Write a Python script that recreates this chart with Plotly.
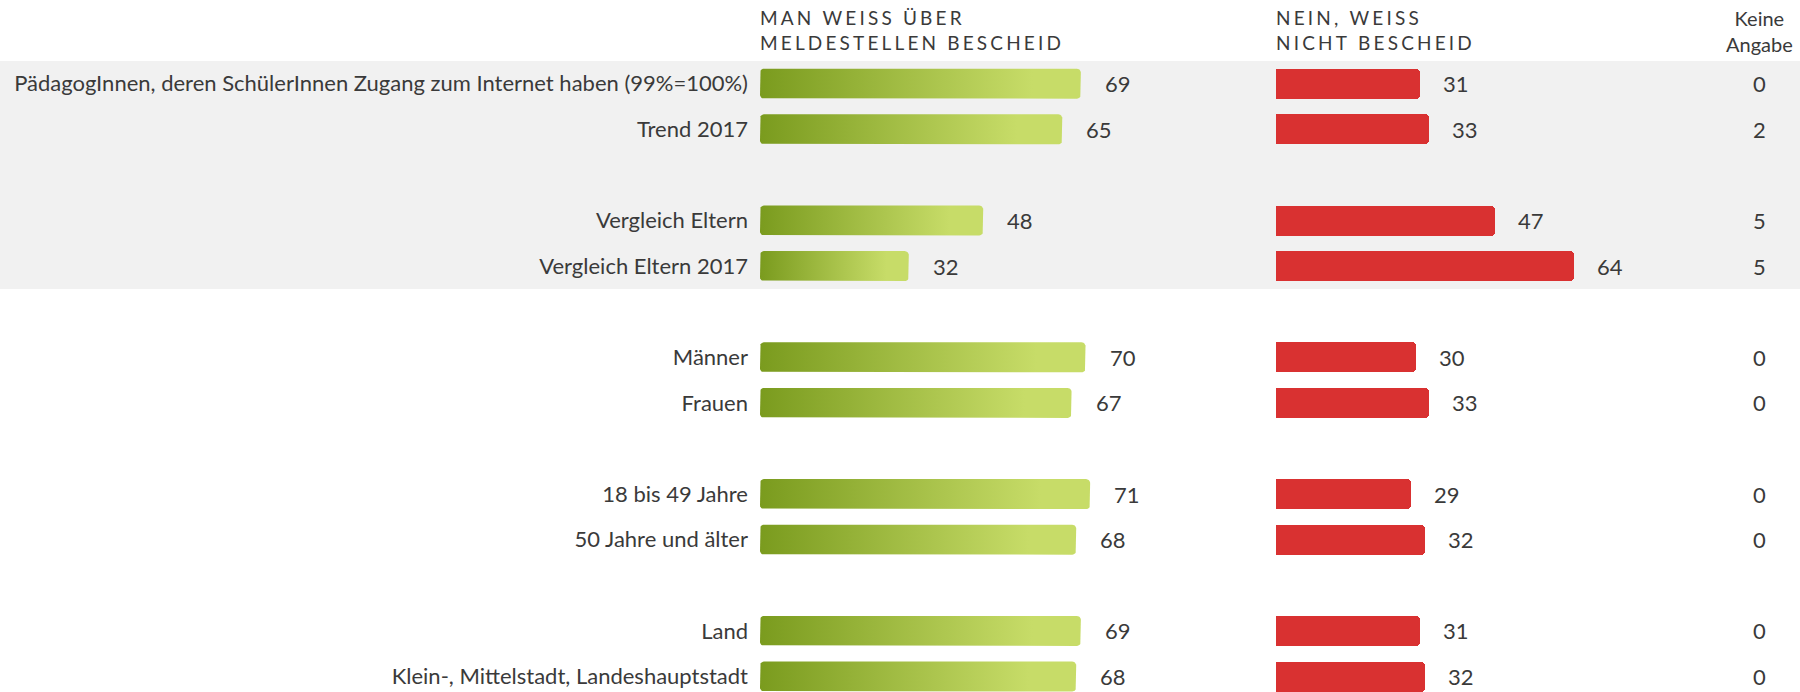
import numpy as np
import plotly.graph_objects as go

# ---- data -------------------------------------------------------------
categories = [
    "PädagogInnen, deren SchülerInnen Zugang zum Internet haben (99%=100%)",
    "Trend 2017",
    "Vergleich Eltern",
    "Vergleich Eltern 2017",
    "Männer",
    "Frauen",
    "18 bis 49 Jahre",
    "50 Jahre und älter",
    "Land",
    "Klein-, Mittelstadt, Landeshauptstadt",
]
group_ids = [0, 0, 1, 1, 2, 2, 3, 3, 4, 4]
weiss_bescheid = [69, 65, 48, 32, 70, 67, 71, 68, 69, 68]
weiss_nicht = [31, 33, 47, 64, 30, 33, 29, 32, 31, 32]
keine_angabe = [0, 2, 5, 5, 0, 0, 0, 0, 0, 0]

header_ja = "MAN WEISS ÜBER<br>MELDESTELLEN BESCHEID"
header_nein = "NEIN, WEISS<br>NICHT BESCHEID"
header_keine = "Keine<br>Angabe"

# ---- layout constants --------------------------------------------------
W, H = 1800, 692
ROW_PX = 45.6          # pixel pitch of one row slot
FIRST_ROW_PX = 83.7    # centre of the first row from the top
BAR_PX = 30            # bar thickness
RADIUS_PX = 4
GREEN_X0, RED_X0, SCALE_W = 760, 1276, 465   # axis starts / width for 0..100
KEINE_X = 1759

FONT = "Lato, 'Open Sans', sans-serif"
TEXT = "#3a3a3a"
GREEN_DARK, GREEN_LIGHT = "#7a9b1e", "#c7dc68"
RED = "#d93131"
BAND = "#f1f1f1"

# one empty slot between groups
slots = [i + g for i, g in enumerate(group_ids)]

y_top = -FIRST_ROW_PX / ROW_PX
y_bottom = (H - FIRST_ROW_PX) / ROW_PX
bar_h = BAR_PX / ROW_PX
rx = RADIUS_PX * 100 / SCALE_W
ry = RADIUS_PX / ROW_PX


def spaced(s):
    # widen the tracking of header capitals with narrow spaces
    lines = s.split("<br>")
    return "<br>".join("\u2006".join(list(line)) for line in lines)


def rounded_bar(x1, yc, h):
    """Outline of a bar from 0 to x1 centred on yc with rounded corners."""
    y0, y1 = yc - h / 2, yc + h / 2
    t = np.linspace(0, np.pi / 2, 7)
    xs, ys = [], []
    corners = [
        (x1 - rx, y0 + ry, -np.pi / 2),
        (x1 - rx, y1 - ry, 0.0),
        (0 + rx, y1 - ry, np.pi / 2),
        (0 + rx, y0 + ry, np.pi),
    ]
    for cx, cy, a0 in corners:
        a = a0 + t
        xs.extend(cx + rx * np.cos(a))
        ys.extend(cy + ry * np.sin(a))
    xs.append(xs[0])
    ys.append(ys[0])
    return xs, ys


fig = go.Figure()

# green gradient bars
for cat, v, s in zip(categories, weiss_bescheid, slots):
    xs, ys = rounded_bar(v, s, bar_h)
    fig.add_trace(go.Scatter(
        x=xs, y=ys, mode="lines", fill="toself",
        line=dict(width=0, color=GREEN_LIGHT),
        fillcolor=GREEN_LIGHT,
        fillgradient=dict(type="horizontal",
                          colorscale=[[0, GREEN_DARK], [0.85, GREEN_LIGHT],
                                      [1, GREEN_LIGHT]]),
        xaxis="x", yaxis="y", name=cat, hoverinfo="skip", showlegend=False,
    ))

# red bars
fig.add_trace(go.Bar(
    x=weiss_nicht, y=slots, orientation="h", width=bar_h,
    marker=dict(color=RED, cornerradius=RADIUS_PX, line=dict(width=0)),
    xaxis="x2", yaxis="y", showlegend=False,
    customdata=categories, hovertemplate="%{customdata}: %{x}<extra></extra>",
))

VAL_FONT = dict(family=FONT, size=22, color=TEXT)
annotations = []
for v, s in zip(weiss_bescheid, slots):
    annotations.append(dict(x=v, y=s, xref="x", yref="y", text=str(v),
                            xanchor="left", xshift=22, showarrow=False,
                            font=VAL_FONT))
for v, s in zip(weiss_nicht, slots):
    annotations.append(dict(x=v, y=s, xref="x2", yref="y", text=str(v),
                            xanchor="left", xshift=21, showarrow=False,
                            font=VAL_FONT))
for v, s in zip(keine_angabe, slots):
    annotations.append(dict(x=KEINE_X / W, y=s, xref="paper", yref="y",
                            text=str(v), xanchor="center", showarrow=False,
                            font=VAL_FONT))

# column headers
HEAD_FONT = dict(family=FONT, size=19, color=TEXT)
annotations.append(dict(x=0, y=1, xref="x", yref="paper", text=spaced(header_ja),
                        xanchor="left", yanchor="top", align="left", yshift=-4,
                        xshift=-2, showarrow=False, font=HEAD_FONT))
annotations.append(dict(x=0, y=1, xref="x2", yref="paper", text=spaced(header_nein),
                        xanchor="left", yanchor="top", align="left", yshift=-4,
                        xshift=-2, showarrow=False, font=HEAD_FONT))
annotations.append(dict(x=KEINE_X / W, y=1, xref="paper", yref="paper",
                        text=header_keine, xanchor="center", yanchor="top",
                        align="center", yshift=-4, showarrow=False,
                        font=dict(family=FONT, size=20, color=TEXT)))

# grey band behind the first two groups
shapes = [dict(type="rect", xref="paper", yref="y", x0=0, x1=1,
               y0=-0.5, y1=slots[3] + 0.5, fillcolor=BAND,
               line=dict(width=0), layer="below")]

fig.update_layout(
    width=W, height=H,
    margin=dict(l=0, r=0, t=0, b=0),
    paper_bgcolor="white", plot_bgcolor="rgba(0,0,0,0)",
    showlegend=False,
    xaxis=dict(domain=[GREEN_X0 / W, (GREEN_X0 + SCALE_W) / W], range=[0, 100],
               visible=False, fixedrange=True, anchor="y"),
    xaxis2=dict(domain=[RED_X0 / W, (RED_X0 + SCALE_W) / W], range=[0, 100],
                visible=False, fixedrange=True, anchor="y"),
    yaxis=dict(range=[y_bottom, y_top], tickvals=slots, ticktext=categories,
               showgrid=False, zeroline=False, showline=False, ticks="",
               ticklabelstandoff=11, ticklabeloverflow="allow",
               automargin=False, fixedrange=True,
               tickfont=dict(family=FONT, size=22, color=TEXT), anchor="x"),
    annotations=annotations,
    shapes=shapes,
    bargap=0,
)

fig.write_html("out.html", config={"displayModeBar": False})
